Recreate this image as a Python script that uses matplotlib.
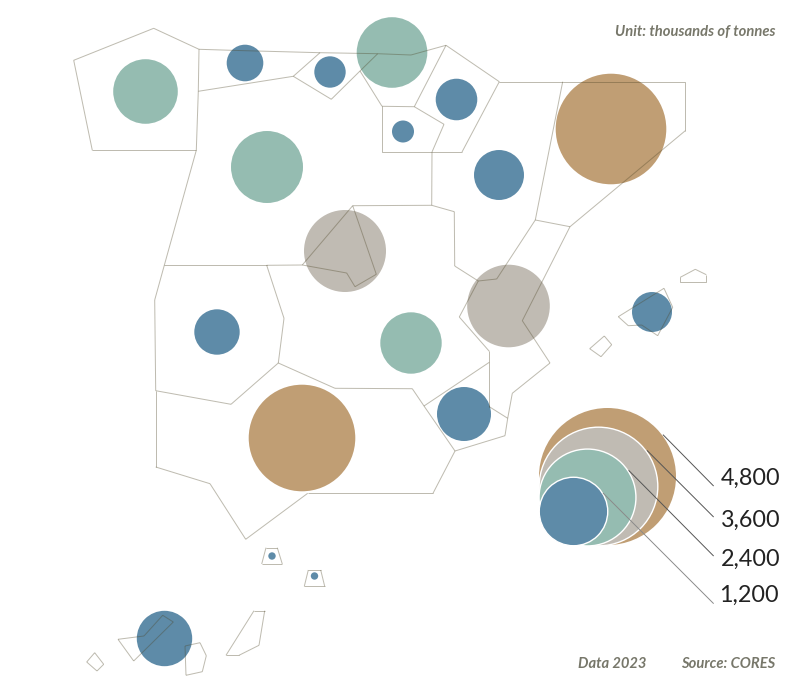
import numpy as np
import matplotlib
matplotlib.use("Agg")
import matplotlib.pyplot as plt
from matplotlib.collections import LineCollection

plt.rcParams["font.family"] = ["Lato", "DejaVu Sans"]

# thousands of tonnes
regions = ["Galicia", "Asturias", "Cantabria", "Basque Country", "Navarre", "La Rioja",
           "Aragon", "Catalonia", "Castile and Leon", "Madrid", "Valencia", "Extremadura",
           "Castile-La Mancha", "Murcia", "Andalusia", "Balearics", "Canaries", "Ceuta", "Melilla"]
values = [1067, 343, 252, 1275, 442, 124, 639, 3128, 1326, 1720,
          1745, 527, 964, 746, 2906, 409, 785, 14, 14]

legend_values = [4800, 3600, 2400, 1200]
legend_labels = ["4,800", "3,600", "2,400", "1,200"]

class_breaks = [850, 1500, 2500]
class_colors = ["#5e8ba8", "#95bcb1", "#c0bbb3", "#c09e74"]

# bubble centres on the map
centre_x = [145.5, 245, 330, 392, 456.5, 403, 499, 611, 267, 345,
            508.5, 217, 411, 464, 302, 652, 164.5, 272, 314.5]
centre_y = [91.5, 63, 72, 52.5, 99.5, 131.5, 175, 129, 167, 251,
            306, 332, 343, 414, 438, 312, 638.5, 556, 576]

# tile map outlines
outlines = [
    [(73.7, 60.3), (153.7, 28.3), (199, 49.3), (198.3, 91.3), (196.3, 150.3), (92.3, 150.3)],
    [(199, 49.3), (245, 50.7), (320, 52.7), (293.3, 76.3), (198.3, 91.3)],
    [(320, 52.7), (377.7, 53.7), (360, 71), (331.3, 99.3), (293.3, 76.3)],
    [(360, 71), (377.7, 53.7), (411, 55), (446, 45.3), (414.3, 106.7), (382, 106.3)],
    [(382, 106.3), (414.3, 106.7), (444, 124.3), (432, 152), (382, 152)],
    [(446, 45.3), (499.3, 81.7), (462, 152), (432, 152), (444, 124.3), (414.3, 106.7)],
    [(499.3, 81.7), (562.7, 81.7), (535.3, 220), (496.7, 279), (478.3, 281), (454.7, 266),
     (454.3, 211.7), (431.7, 205.3), (432, 152), (462, 152)],
    [(562.7, 81.7), (685.3, 81.7), (685.3, 130.7), (570, 226.7), (535.3, 220)],
    [(198.3, 91.3), (293.3, 76.3), (331.3, 99.3), (360, 71), (382, 106.3), (382, 152), (432, 152),
     (431.7, 205.3), (352.7, 205.7), (302.3, 265), (266.7, 265.3), (164.3, 265.3), (196.3, 150.3)],
    [(302.3, 265), (352.7, 205.7), (376.3, 274.3), (355, 286.7), (346.7, 273)],
    [(535.3, 220), (570, 226.7), (522.3, 320.7), (550, 363), (512.3, 393.3), (507.7, 418.3),
     (489.3, 406.7), (489.3, 362.3), (489.3, 351.3), (459.3, 317), (478.3, 281), (496.7, 279)],
    [(164.3, 265.3), (266.7, 265.3), (284, 318.3), (278.3, 363), (231, 404.3), (155.7, 390.7),
     (154.7, 300)],
    [(266.7, 265.3), (302.3, 265), (346.7, 273), (355, 286.7), (376.3, 274.3), (352.7, 205.7),
     (431.7, 205.3), (454.3, 211.7), (454.7, 266), (478.3, 281), (459.3, 317), (489.3, 351.3),
     (489.3, 362.3), (424, 406), (412.3, 388.7), (335, 388.3), (278.3, 363), (284, 318.3)],
    [(424, 406), (489.3, 362.3), (489.3, 406.7), (507.7, 418.3), (505, 435.7), (455, 451)],
    [(155.7, 390.7), (231, 404.3), (278.3, 363), (335, 388.3), (412.3, 388.7), (424, 406), (455, 451),
     (433, 493.3), (307.7, 493.3), (245.7, 539.3), (210, 483.7), (155.7, 467)],
    [(618.3, 316.7), (664, 288.3), (672.7, 307.3), (657.7, 335.7), (641.7, 325), (628.3, 325.7)],
    [(589.7, 348.7), (604.3, 336), (611.7, 344.7), (601, 356.7)],
    [(680.3, 277.3), (695.3, 269.3), (706.3, 274.7), (706.3, 282.3), (680.3, 282.3)],
    [(266, 547.7), (277.3, 547.7), (282.3, 564), (261.7, 564)],
    [(308.3, 570), (320.7, 570), (324.7, 586.3), (304.3, 586.3)],
    [(118, 639.3), (144, 636), (162.7, 615.3), (173.3, 622), (133.7, 661)],
    [(185, 646), (200, 642.7), (206.3, 655.7), (202.3, 671.7), (186, 675.3)],
    [(226, 655.3), (239, 655.3), (259, 645.3), (264.7, 610.7), (254, 610.7)],
    [(86.7, 662), (94.7, 652.7), (103.7, 664.3), (97, 671)],
]

max_radius = 68.5
legend_left = 539
legend_bottom = 545
label_x = [721, 721, 721, 719]
label_y = [478, 520, 559, 595]
leader_start = [(663.3, 435), (647.3, 450.7), (629, 470.7), (603.3, 493.3)]
leader_end = [(713.3, 485.7), (713.3, 516.7), (713.3, 555.7), (713.3, 603.3)]
leader_colors = ["#555555", "#555555", "#555555", "#8a8a8a"]


def radius(v):
    return max_radius * np.sqrt(np.asarray(v, dtype=float) / max(legend_values))


def marker_size(r):
    # scatter wants the diameter in points squared, axes are 1 unit = 1 pixel at dpi 100
    return (2 * r * 0.72) ** 2


fig = plt.figure(figsize=(8.05, 6.88), dpi=100)
ax = fig.add_axes([0, 0, 1, 1])
ax.set_xlim(0, 805)
ax.set_ylim(688, 0)
ax.axis("off")

colors = [class_colors[i] for i in np.digitize(values, class_breaks)]
ax.scatter(centre_x, centre_y, s=marker_size(radius(values)), c=colors, linewidths=0, zorder=2)

# shared borders only once, or the alpha doubles up
edges = set()
for points in outlines:
    for a, b in zip(points, points[1:] + points[:1]):
        edges.add(tuple(sorted((a, b))))
ax.add_collection(LineCollection(list(edges), colors="#4d4526", alpha=0.36, linewidths=0.72,
                                 capstyle="butt", zorder=3))

# nested legend, bubbles share left and bottom edge
for i, v in enumerate(legend_values):
    r = radius(v)
    ax.scatter(legend_left + r, legend_bottom - r, s=marker_size(r), c=class_colors[3 - i],
               edgecolors="white" if i else "none", linewidths=1.0, zorder=4 + i * 0.1)
    ax.text(label_x[i], label_y[i], legend_labels[i], fontsize=16.8, color="#222222",
            ha="left", va="center", zorder=6)
    ax.plot([leader_start[i][0], leader_end[i][0]], [leader_start[i][1], leader_end[i][1]],
            color=leader_colors[i], linewidth=0.7, zorder=5)

note = dict(fontsize=10.6, color="#77776a", style="italic", fontweight="bold", va="center")
ax.text(775, 32, "Unit: thousands of tonnes", ha="right", **note)
ax.text(646, 664, "Data 2023", ha="right", **note)
ax.text(775, 664, "Source: CORES", ha="right", **note)

fig.savefig("out.png", dpi=100)
